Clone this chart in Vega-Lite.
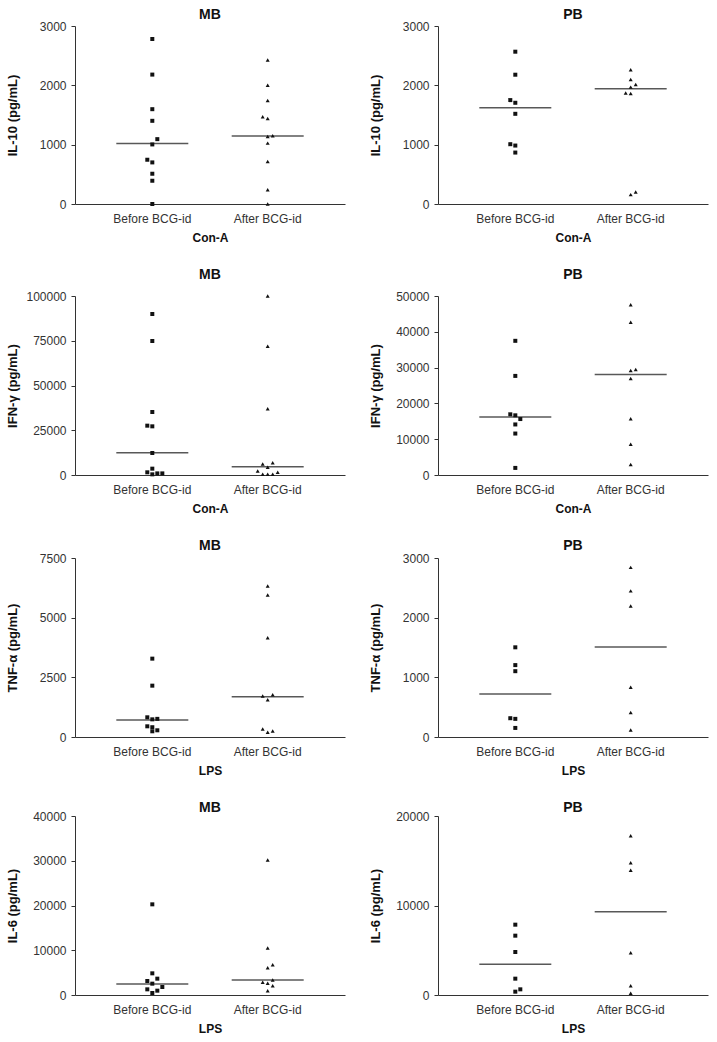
{
  "$schema": "https://vega.github.io/schema/vega-lite/v6.json",
  "background": "white",
  "padding": {"left": 6, "top": 8, "right": 5, "bottom": 2},
  "columns": 2,
  "spacing": {"row": 25, "column": 24},
  "datasets": {
    "points": [
      {"panel": "IL10_MB", "group": "Before BCG-id", "value": 2781, "slot": 0},
      {"panel": "IL10_MB", "group": "Before BCG-id", "value": 2181, "slot": 0},
      {"panel": "IL10_MB", "group": "Before BCG-id", "value": 1598, "slot": 0},
      {"panel": "IL10_MB", "group": "Before BCG-id", "value": 1402, "slot": 0},
      {"panel": "IL10_MB", "group": "Before BCG-id", "value": 1093, "slot": 1},
      {"panel": "IL10_MB", "group": "Before BCG-id", "value": 1004, "slot": 0},
      {"panel": "IL10_MB", "group": "Before BCG-id", "value": 746, "slot": -1},
      {"panel": "IL10_MB", "group": "Before BCG-id", "value": 701, "slot": 0},
      {"panel": "IL10_MB", "group": "Before BCG-id", "value": 510, "slot": 0},
      {"panel": "IL10_MB", "group": "Before BCG-id", "value": 392, "slot": 0},
      {"panel": "IL10_MB", "group": "Before BCG-id", "value": 0, "slot": 0},
      {"panel": "IL10_MB", "group": "After BCG-id", "value": 2428, "slot": 0},
      {"panel": "IL10_MB", "group": "After BCG-id", "value": 2002, "slot": 0},
      {"panel": "IL10_MB", "group": "After BCG-id", "value": 1744, "slot": 0},
      {"panel": "IL10_MB", "group": "After BCG-id", "value": 1469, "slot": -1},
      {"panel": "IL10_MB", "group": "After BCG-id", "value": 1441, "slot": 0},
      {"panel": "IL10_MB", "group": "After BCG-id", "value": 1149, "slot": 1},
      {"panel": "IL10_MB", "group": "After BCG-id", "value": 1138, "slot": 0},
      {"panel": "IL10_MB", "group": "After BCG-id", "value": 1026, "slot": 0},
      {"panel": "IL10_MB", "group": "After BCG-id", "value": 718, "slot": 0},
      {"panel": "IL10_MB", "group": "After BCG-id", "value": 241, "slot": 0},
      {"panel": "IL10_MB", "group": "After BCG-id", "value": 0, "slot": 0},

      {"panel": "IL10_PB", "group": "Before BCG-id", "value": 2567, "slot": 0},
      {"panel": "IL10_PB", "group": "Before BCG-id", "value": 2179, "slot": 0},
      {"panel": "IL10_PB", "group": "Before BCG-id", "value": 1751, "slot": -1},
      {"panel": "IL10_PB", "group": "Before BCG-id", "value": 1706, "slot": 0},
      {"panel": "IL10_PB", "group": "Before BCG-id", "value": 1520, "slot": 0},
      {"panel": "IL10_PB", "group": "Before BCG-id", "value": 1008, "slot": -1},
      {"panel": "IL10_PB", "group": "Before BCG-id", "value": 985, "slot": 0},
      {"panel": "IL10_PB", "group": "Before BCG-id", "value": 867, "slot": 0},
      {"panel": "IL10_PB", "group": "After BCG-id", "value": 2263, "slot": 0},
      {"panel": "IL10_PB", "group": "After BCG-id", "value": 2100, "slot": 0},
      {"panel": "IL10_PB", "group": "After BCG-id", "value": 2015, "slot": 1},
      {"panel": "IL10_PB", "group": "After BCG-id", "value": 1970, "slot": 0},
      {"panel": "IL10_PB", "group": "After BCG-id", "value": 1869, "slot": -1},
      {"panel": "IL10_PB", "group": "After BCG-id", "value": 1863, "slot": 0},
      {"panel": "IL10_PB", "group": "After BCG-id", "value": 203, "slot": 1},
      {"panel": "IL10_PB", "group": "After BCG-id", "value": 158, "slot": 0},

      {"panel": "IFN_MB", "group": "Before BCG-id", "value": 89950, "slot": 0},
      {"panel": "IFN_MB", "group": "Before BCG-id", "value": 74860, "slot": 0},
      {"panel": "IFN_MB", "group": "Before BCG-id", "value": 35190, "slot": 0},
      {"panel": "IFN_MB", "group": "Before BCG-id", "value": 27560, "slot": -1},
      {"panel": "IFN_MB", "group": "Before BCG-id", "value": 27190, "slot": 0},
      {"panel": "IFN_MB", "group": "Before BCG-id", "value": 12290, "slot": 0},
      {"panel": "IFN_MB", "group": "Before BCG-id", "value": 3540, "slot": 0},
      {"panel": "IFN_MB", "group": "Before BCG-id", "value": 1500, "slot": -1},
      {"panel": "IFN_MB", "group": "Before BCG-id", "value": 370, "slot": 0},
      {"panel": "IFN_MB", "group": "Before BCG-id", "value": 900, "slot": 1},
      {"panel": "IFN_MB", "group": "Before BCG-id", "value": 900, "slot": 2},
      {"panel": "IFN_MB", "group": "After BCG-id", "value": 100000, "slot": 0},
      {"panel": "IFN_MB", "group": "After BCG-id", "value": 71870, "slot": 0},
      {"panel": "IFN_MB", "group": "After BCG-id", "value": 37050, "slot": 0},
      {"panel": "IFN_MB", "group": "After BCG-id", "value": 6150, "slot": -1},
      {"panel": "IFN_MB", "group": "After BCG-id", "value": 4280, "slot": 0},
      {"panel": "IFN_MB", "group": "After BCG-id", "value": 6890, "slot": 1},
      {"panel": "IFN_MB", "group": "After BCG-id", "value": 2230, "slot": -2},
      {"panel": "IFN_MB", "group": "After BCG-id", "value": 370, "slot": -1},
      {"panel": "IFN_MB", "group": "After BCG-id", "value": 370, "slot": 0},
      {"panel": "IFN_MB", "group": "After BCG-id", "value": 370, "slot": 1},
      {"panel": "IFN_MB", "group": "After BCG-id", "value": 1500, "slot": 2},

      {"panel": "IFN_PB", "group": "Before BCG-id", "value": 37480, "slot": 0},
      {"panel": "IFN_PB", "group": "Before BCG-id", "value": 27680, "slot": 0},
      {"panel": "IFN_PB", "group": "Before BCG-id", "value": 16950, "slot": -1},
      {"panel": "IFN_PB", "group": "Before BCG-id", "value": 16670, "slot": 0},
      {"panel": "IFN_PB", "group": "Before BCG-id", "value": 15630, "slot": 1},
      {"panel": "IFN_PB", "group": "Before BCG-id", "value": 14120, "slot": 0},
      {"panel": "IFN_PB", "group": "Before BCG-id", "value": 11580, "slot": 0},
      {"panel": "IFN_PB", "group": "Before BCG-id", "value": 1980, "slot": 0},
      {"panel": "IFN_PB", "group": "After BCG-id", "value": 47550, "slot": 0},
      {"panel": "IFN_PB", "group": "After BCG-id", "value": 42650, "slot": 0},
      {"panel": "IFN_PB", "group": "After BCG-id", "value": 29190, "slot": 0},
      {"panel": "IFN_PB", "group": "After BCG-id", "value": 29470, "slot": 1},
      {"panel": "IFN_PB", "group": "After BCG-id", "value": 26930, "slot": 0},
      {"panel": "IFN_PB", "group": "After BCG-id", "value": 15720, "slot": 0},
      {"panel": "IFN_PB", "group": "After BCG-id", "value": 8570, "slot": 0},
      {"panel": "IFN_PB", "group": "After BCG-id", "value": 2920, "slot": 0},

      {"panel": "TNF_MB", "group": "Before BCG-id", "value": 3283, "slot": 0},
      {"panel": "TNF_MB", "group": "Before BCG-id", "value": 2151, "slot": 0},
      {"panel": "TNF_MB", "group": "Before BCG-id", "value": 825, "slot": -1},
      {"panel": "TNF_MB", "group": "Before BCG-id", "value": 740, "slot": 0},
      {"panel": "TNF_MB", "group": "Before BCG-id", "value": 760, "slot": 1},
      {"panel": "TNF_MB", "group": "Before BCG-id", "value": 448, "slot": -1},
      {"panel": "TNF_MB", "group": "Before BCG-id", "value": 410, "slot": 0},
      {"panel": "TNF_MB", "group": "Before BCG-id", "value": 239, "slot": 0},
      {"panel": "TNF_MB", "group": "Before BCG-id", "value": 281, "slot": 1},
      {"panel": "TNF_MB", "group": "After BCG-id", "value": 6328, "slot": 0},
      {"panel": "TNF_MB", "group": "After BCG-id", "value": 5951, "slot": 0},
      {"panel": "TNF_MB", "group": "After BCG-id", "value": 4163, "slot": 0},
      {"panel": "TNF_MB", "group": "After BCG-id", "value": 1718, "slot": -1},
      {"panel": "TNF_MB", "group": "After BCG-id", "value": 1774, "slot": 1},
      {"panel": "TNF_MB", "group": "After BCG-id", "value": 1565, "slot": 0},
      {"panel": "TNF_MB", "group": "After BCG-id", "value": 335, "slot": -1},
      {"panel": "TNF_MB", "group": "After BCG-id", "value": 196, "slot": 0},
      {"panel": "TNF_MB", "group": "After BCG-id", "value": 251, "slot": 1},

      {"panel": "TNF_PB", "group": "Before BCG-id", "value": 1503, "slot": 0},
      {"panel": "TNF_PB", "group": "Before BCG-id", "value": 1205, "slot": 0},
      {"panel": "TNF_PB", "group": "Before BCG-id", "value": 1103, "slot": 0},
      {"panel": "TNF_PB", "group": "Before BCG-id", "value": 315, "slot": -1},
      {"panel": "TNF_PB", "group": "Before BCG-id", "value": 304, "slot": 0},
      {"panel": "TNF_PB", "group": "Before BCG-id", "value": 152, "slot": 0},
      {"panel": "TNF_PB", "group": "After BCG-id", "value": 2843, "slot": 0},
      {"panel": "TNF_PB", "group": "After BCG-id", "value": 2449, "slot": 0},
      {"panel": "TNF_PB", "group": "After BCG-id", "value": 2196, "slot": 0},
      {"panel": "TNF_PB", "group": "After BCG-id", "value": 833, "slot": 0},
      {"panel": "TNF_PB", "group": "After BCG-id", "value": 411, "slot": 0},
      {"panel": "TNF_PB", "group": "After BCG-id", "value": 118, "slot": 0},

      {"panel": "IL6_MB", "group": "Before BCG-id", "value": 20260, "slot": 0},
      {"panel": "IL6_MB", "group": "Before BCG-id", "value": 4842, "slot": 0},
      {"panel": "IL6_MB", "group": "Before BCG-id", "value": 3650, "slot": 1},
      {"panel": "IL6_MB", "group": "Before BCG-id", "value": 3129, "slot": -1},
      {"panel": "IL6_MB", "group": "Before BCG-id", "value": 2533, "slot": 0},
      {"panel": "IL6_MB", "group": "Before BCG-id", "value": 1788, "slot": 2},
      {"panel": "IL6_MB", "group": "Before BCG-id", "value": 1266, "slot": -1},
      {"panel": "IL6_MB", "group": "Before BCG-id", "value": 968, "slot": 1},
      {"panel": "IL6_MB", "group": "Before BCG-id", "value": 447, "slot": 0},
      {"panel": "IL6_MB", "group": "After BCG-id", "value": 30170, "slot": 0},
      {"panel": "IL6_MB", "group": "After BCG-id", "value": 10500, "slot": 0},
      {"panel": "IL6_MB", "group": "After BCG-id", "value": 6770, "slot": 1},
      {"panel": "IL6_MB", "group": "After BCG-id", "value": 6100, "slot": 0},
      {"panel": "IL6_MB", "group": "After BCG-id", "value": 3350, "slot": 1},
      {"panel": "IL6_MB", "group": "After BCG-id", "value": 2840, "slot": -1},
      {"panel": "IL6_MB", "group": "After BCG-id", "value": 2615, "slot": 0},
      {"panel": "IL6_MB", "group": "After BCG-id", "value": 2080, "slot": 1},
      {"panel": "IL6_MB", "group": "After BCG-id", "value": 960, "slot": 0},

      {"panel": "IL6_PB", "group": "Before BCG-id", "value": 7858, "slot": 0},
      {"panel": "IL6_PB", "group": "Before BCG-id", "value": 6629, "slot": 0},
      {"panel": "IL6_PB", "group": "Before BCG-id", "value": 4804, "slot": 0},
      {"panel": "IL6_PB", "group": "Before BCG-id", "value": 1825, "slot": 0},
      {"panel": "IL6_PB", "group": "Before BCG-id", "value": 633, "slot": 1},
      {"panel": "IL6_PB", "group": "Before BCG-id", "value": 372, "slot": 0},
      {"panel": "IL6_PB", "group": "After BCG-id", "value": 17800, "slot": 0},
      {"panel": "IL6_PB", "group": "After BCG-id", "value": 14780, "slot": 0},
      {"panel": "IL6_PB", "group": "After BCG-id", "value": 13930, "slot": 0},
      {"panel": "IL6_PB", "group": "After BCG-id", "value": 4729, "slot": 0},
      {"panel": "IL6_PB", "group": "After BCG-id", "value": 1043, "slot": 0},
      {"panel": "IL6_PB", "group": "After BCG-id", "value": 186, "slot": 0}
    ],
    "medians": [
      {"panel": "IL10_MB", "group": "Before BCG-id", "value": 1020},
      {"panel": "IL10_MB", "group": "After BCG-id", "value": 1144},
      {"panel": "IL10_PB", "group": "Before BCG-id", "value": 1621},
      {"panel": "IL10_PB", "group": "After BCG-id", "value": 1942},
      {"panel": "IFN_MB", "group": "Before BCG-id", "value": 12475},
      {"panel": "IFN_MB", "group": "After BCG-id", "value": 4655},
      {"panel": "IFN_PB", "group": "Before BCG-id", "value": 16200},
      {"panel": "IFN_PB", "group": "After BCG-id", "value": 28060},
      {"panel": "TNF_MB", "group": "Before BCG-id", "value": 712},
      {"panel": "TNF_MB", "group": "After BCG-id", "value": 1690},
      {"panel": "TNF_PB", "group": "Before BCG-id", "value": 720},
      {"panel": "TNF_PB", "group": "After BCG-id", "value": 1509},
      {"panel": "IL6_MB", "group": "Before BCG-id", "value": 2458},
      {"panel": "IL6_MB", "group": "After BCG-id", "value": 3350},
      {"panel": "IL6_PB", "group": "Before BCG-id", "value": 3426},
      {"panel": "IL6_PB", "group": "After BCG-id", "value": 9310}
    ]
  },
  "concat": [
    {
      "width": 270, "height": 178,
      "title": {"text": "MB", "offset": -2},
      "layer": [
        {"data": {"name": "points"}, "transform": [{"filter": "datum.panel === 'IL10_MB'"}],
         "mark": {"type": "point", "filled": true, "size": 16, "color": "#111", "opacity": 1},
         "encoding": {
           "x": {"field": "group", "type": "nominal", "scale": {"domain": ["Before BCG-id", "After BCG-id"], "paddingInner": 0.783, "paddingOuter": 0.5615}, "axis": {"title": "Con-A"}},
           "xOffset": {"field": "slot", "type": "nominal", "scale": {"domain": [-2, -1, 0, 1, 2]}},
           "y": {"field": "value", "type": "quantitative", "scale": {"domain": [0, 3000], "nice": false}, "axis": {"tickCount": 3, "title": "IL-10 (pg/mL)", "format": "d", "labelOverlap": false}},
           "shape": {"field": "group", "type": "nominal", "scale": {"domain": ["Before BCG-id", "After BCG-id"], "range": ["square", "triangle-up"]}, "legend": null}
         }},
        {"data": {"name": "medians"}, "transform": [{"filter": "datum.panel === 'IL10_MB'"}],
         "mark": {"type": "tick", "size": 72, "thickness": 1.5, "color": "#111"},
         "encoding": {"x": {"field": "group", "type": "nominal"}, "y": {"field": "value", "type": "quantitative"}}}
      ]
    },
    {
      "width": 270, "height": 178,
      "title": {"text": "PB", "offset": -2},
      "layer": [
        {"data": {"name": "points"}, "transform": [{"filter": "datum.panel === 'IL10_PB'"}],
         "mark": {"type": "point", "filled": true, "size": 16, "color": "#111", "opacity": 1},
         "encoding": {
           "x": {"field": "group", "type": "nominal", "scale": {"domain": ["Before BCG-id", "After BCG-id"], "paddingInner": 0.783, "paddingOuter": 0.5615}, "axis": {"title": "Con-A"}},
           "xOffset": {"field": "slot", "type": "nominal", "scale": {"domain": [-2, -1, 0, 1, 2]}},
           "y": {"field": "value", "type": "quantitative", "scale": {"domain": [0, 3000], "nice": false}, "axis": {"tickCount": 3, "title": "IL-10 (pg/mL)", "format": "d", "labelOverlap": false}},
           "shape": {"field": "group", "type": "nominal", "scale": {"domain": ["Before BCG-id", "After BCG-id"], "range": ["square", "triangle-up"]}, "legend": null}
         }},
        {"data": {"name": "medians"}, "transform": [{"filter": "datum.panel === 'IL10_PB'"}],
         "mark": {"type": "tick", "size": 72, "thickness": 1.5, "color": "#111"},
         "encoding": {"x": {"field": "group", "type": "nominal"}, "y": {"field": "value", "type": "quantitative"}}}
      ]
    },
    {
      "width": 270, "height": 179,
      "title": {"text": "MB", "offset": 8},
      "layer": [
        {"data": {"name": "points"}, "transform": [{"filter": "datum.panel === 'IFN_MB'"}],
         "mark": {"type": "point", "filled": true, "size": 16, "color": "#111", "opacity": 1},
         "encoding": {
           "x": {"field": "group", "type": "nominal", "scale": {"domain": ["Before BCG-id", "After BCG-id"], "paddingInner": 0.783, "paddingOuter": 0.5615}, "axis": {"title": "Con-A"}},
           "xOffset": {"field": "slot", "type": "nominal", "scale": {"domain": [-2, -1, 0, 1, 2]}},
           "y": {"field": "value", "type": "quantitative", "scale": {"domain": [0, 100000], "nice": false}, "axis": {"values": [0, 25000, 50000, 75000, 100000], "title": "IFN-γ (pg/mL)", "format": "d", "labelOverlap": false}},
           "shape": {"field": "group", "type": "nominal", "scale": {"domain": ["Before BCG-id", "After BCG-id"], "range": ["square", "triangle-up"]}, "legend": null}
         }},
        {"data": {"name": "medians"}, "transform": [{"filter": "datum.panel === 'IFN_MB'"}],
         "mark": {"type": "tick", "size": 72, "thickness": 1.5, "color": "#111"},
         "encoding": {"x": {"field": "group", "type": "nominal"}, "y": {"field": "value", "type": "quantitative"}}}
      ]
    },
    {
      "width": 270, "height": 179,
      "title": {"text": "PB", "offset": 8},
      "layer": [
        {"data": {"name": "points"}, "transform": [{"filter": "datum.panel === 'IFN_PB'"}],
         "mark": {"type": "point", "filled": true, "size": 16, "color": "#111", "opacity": 1},
         "encoding": {
           "x": {"field": "group", "type": "nominal", "scale": {"domain": ["Before BCG-id", "After BCG-id"], "paddingInner": 0.783, "paddingOuter": 0.5615}, "axis": {"title": "Con-A"}},
           "xOffset": {"field": "slot", "type": "nominal", "scale": {"domain": [-2, -1, 0, 1, 2]}},
           "y": {"field": "value", "type": "quantitative", "scale": {"domain": [0, 50000], "nice": false}, "axis": {"tickCount": 5, "title": "IFN-γ (pg/mL)", "format": "d", "labelOverlap": false}},
           "shape": {"field": "group", "type": "nominal", "scale": {"domain": ["Before BCG-id", "After BCG-id"], "range": ["square", "triangle-up"]}, "legend": null}
         }},
        {"data": {"name": "medians"}, "transform": [{"filter": "datum.panel === 'IFN_PB'"}],
         "mark": {"type": "tick", "size": 72, "thickness": 1.5, "color": "#111"},
         "encoding": {"x": {"field": "group", "type": "nominal"}, "y": {"field": "value", "type": "quantitative"}}}
      ]
    },
    {
      "width": 270, "height": 179,
      "title": {"text": "MB", "offset": -1},
      "layer": [
        {"data": {"name": "points"}, "transform": [{"filter": "datum.panel === 'TNF_MB'"}],
         "mark": {"type": "point", "filled": true, "size": 16, "color": "#111", "opacity": 1},
         "encoding": {
           "x": {"field": "group", "type": "nominal", "scale": {"domain": ["Before BCG-id", "After BCG-id"], "paddingInner": 0.783, "paddingOuter": 0.5615}, "axis": {"title": "LPS"}},
           "xOffset": {"field": "slot", "type": "nominal", "scale": {"domain": [-2, -1, 0, 1, 2]}},
           "y": {"field": "value", "type": "quantitative", "scale": {"domain": [0, 7500], "nice": false}, "axis": {"values": [0, 2500, 5000, 7500], "title": "TNF-α (pg/mL)", "format": "d", "labelOverlap": false}},
           "shape": {"field": "group", "type": "nominal", "scale": {"domain": ["Before BCG-id", "After BCG-id"], "range": ["square", "triangle-up"]}, "legend": null}
         }},
        {"data": {"name": "medians"}, "transform": [{"filter": "datum.panel === 'TNF_MB'"}],
         "mark": {"type": "tick", "size": 72, "thickness": 1.5, "color": "#111"},
         "encoding": {"x": {"field": "group", "type": "nominal"}, "y": {"field": "value", "type": "quantitative"}}}
      ]
    },
    {
      "width": 270, "height": 179,
      "title": {"text": "PB", "offset": -1},
      "layer": [
        {"data": {"name": "points"}, "transform": [{"filter": "datum.panel === 'TNF_PB'"}],
         "mark": {"type": "point", "filled": true, "size": 16, "color": "#111", "opacity": 1},
         "encoding": {
           "x": {"field": "group", "type": "nominal", "scale": {"domain": ["Before BCG-id", "After BCG-id"], "paddingInner": 0.783, "paddingOuter": 0.5615}, "axis": {"title": "LPS"}},
           "xOffset": {"field": "slot", "type": "nominal", "scale": {"domain": [-2, -1, 0, 1, 2]}},
           "y": {"field": "value", "type": "quantitative", "scale": {"domain": [0, 3000], "nice": false}, "axis": {"tickCount": 3, "title": "TNF-α (pg/mL)", "format": "d", "labelOverlap": false}},
           "shape": {"field": "group", "type": "nominal", "scale": {"domain": ["Before BCG-id", "After BCG-id"], "range": ["square", "triangle-up"]}, "legend": null}
         }},
        {"data": {"name": "medians"}, "transform": [{"filter": "datum.panel === 'TNF_PB'"}],
         "mark": {"type": "tick", "size": 72, "thickness": 1.5, "color": "#111"},
         "encoding": {"x": {"field": "group", "type": "nominal"}, "y": {"field": "value", "type": "quantitative"}}}
      ]
    },
    {
      "width": 270, "height": 179,
      "title": {"text": "MB", "offset": -5},
      "layer": [
        {"data": {"name": "points"}, "transform": [{"filter": "datum.panel === 'IL6_MB'"}],
         "mark": {"type": "point", "filled": true, "size": 16, "color": "#111", "opacity": 1},
         "encoding": {
           "x": {"field": "group", "type": "nominal", "scale": {"domain": ["Before BCG-id", "After BCG-id"], "paddingInner": 0.783, "paddingOuter": 0.5615}, "axis": {"title": "LPS"}},
           "xOffset": {"field": "slot", "type": "nominal", "scale": {"domain": [-2, -1, 0, 1, 2]}},
           "y": {"field": "value", "type": "quantitative", "scale": {"domain": [0, 40000], "nice": false}, "axis": {"tickCount": 4, "title": "IL-6 (pg/mL)", "format": "d", "labelOverlap": false}},
           "shape": {"field": "group", "type": "nominal", "scale": {"domain": ["Before BCG-id", "After BCG-id"], "range": ["square", "triangle-up"]}, "legend": null}
         }},
        {"data": {"name": "medians"}, "transform": [{"filter": "datum.panel === 'IL6_MB'"}],
         "mark": {"type": "tick", "size": 72, "thickness": 1.5, "color": "#111"},
         "encoding": {"x": {"field": "group", "type": "nominal"}, "y": {"field": "value", "type": "quantitative"}}}
      ]
    },
    {
      "width": 270, "height": 179,
      "title": {"text": "PB", "offset": -5},
      "layer": [
        {"data": {"name": "points"}, "transform": [{"filter": "datum.panel === 'IL6_PB'"}],
         "mark": {"type": "point", "filled": true, "size": 16, "color": "#111", "opacity": 1},
         "encoding": {
           "x": {"field": "group", "type": "nominal", "scale": {"domain": ["Before BCG-id", "After BCG-id"], "paddingInner": 0.783, "paddingOuter": 0.5615}, "axis": {"title": "LPS"}},
           "xOffset": {"field": "slot", "type": "nominal", "scale": {"domain": [-2, -1, 0, 1, 2]}},
           "y": {"field": "value", "type": "quantitative", "scale": {"domain": [0, 20000], "nice": false}, "axis": {"values": [0, 10000, 20000], "title": "IL-6 (pg/mL)", "format": "d", "labelOverlap": false}},
           "shape": {"field": "group", "type": "nominal", "scale": {"domain": ["Before BCG-id", "After BCG-id"], "range": ["square", "triangle-up"]}, "legend": null}
         }},
        {"data": {"name": "medians"}, "transform": [{"filter": "datum.panel === 'IL6_PB'"}],
         "mark": {"type": "tick", "size": 72, "thickness": 1.5, "color": "#111"},
         "encoding": {"x": {"field": "group", "type": "nominal"}, "y": {"field": "value", "type": "quantitative"}}}
      ]
    }
  ],
  "config": {
    "font": "Liberation Sans",
    "view": {"stroke": null},
    "title": {"fontSize": 14, "fontWeight": "bold", "color": "#111", "anchor": "middle", "frame": "group", "baseline": "alphabetic"},
    "axis": {"domainColor": "#333", "tickColor": "#333", "labelColor": "#333", "titleColor": "#111", "grid": false, "labelFontSize": 12, "titleFontWeight": "bold"},
    "axisY": {"tickSize": 4, "labelPadding": 5, "titleFontSize": 13, "titleX": -56},
    "axisX": {"ticks": false, "labelAngle": 0, "labelPadding": 9, "titleFontSize": 12, "titlePadding": 8}
  }
}
